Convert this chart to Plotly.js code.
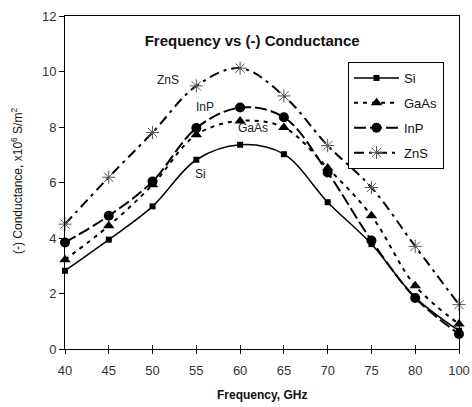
<!DOCTYPE html>
<html>
<head>
<meta charset="utf-8">
<script src="https://cdn.plot.ly/plotly-3.0.1.min.js"></script>
<style>html,body{margin:0;padding:0;background:#fff;}#chart{width:472px;height:407px;}</style>
</head>
<body>
<div id="chart"></div>
<script>
var frequencies = ["40","45","50","55","60","65","70","75","80","100"];
var si   = [2.82, 3.94, 5.14, 6.82, 7.36, 7.02, 5.29, 3.78, 1.86, 0.66];
var gaas = [3.22, 4.44, 5.92, 7.72, 8.22, 7.98, 6.52, 4.80, 2.28, 0.90];
var inp  = [3.84, 4.80, 6.04, 7.96, 8.70, 8.35, 6.36, 3.91, 1.84, 0.54];
var zns  = [4.50, 6.19, 7.80, 9.48, 10.12, 9.12, 7.33, 5.82, 3.70, 1.60];
var yTicks = [0, 2, 4, 6, 8, 10, 12];
var xTitle = "<b>Frequency, GHz</b>";
var yTitle = "(-) Conductance, x10<sup>6</sup> S/m<sup>2</sup>";

var font = "Liberation Sans, Arial, sans-serif";

function tr(name, y, dash, width, symbol, size, mcolor, group) {
  return {
    x: frequencies, y: y, name: name, type: "scatter", mode: "lines+markers",
    line: {color: "#000", width: width, dash: dash, shape: "spline", smoothing: 1},
    marker: {symbol: symbol, size: size, color: mcolor, line: {color: mcolor, width: symbol.indexOf("open") >= 0 ? 1 : 0}},
    cliponaxis: false, legendgroup: group
  };
}

var data = [
  tr("Si", si, "solid", 1.5, "square", 6, "#000", "a"),
  tr("GaAs", gaas, "4px,5px", 2, "triangle-up", 10, "#000", "b"),
  tr("InP", inp, "12px,4px", 2, "circle", 10, "#000", "c"),
  tr("ZnS", zns, "10px,5px,3px,5px", 2, "asterisk-open", 11, "#555", "d")
];

var layout = {
  width: 472, height: 407,
  margin: {l: 65, r: 13, t: 16, b: 58},
  paper_bgcolor: "#fff", plot_bgcolor: "#fff",
  font: {family: font, color: "#222", size: 12},
  showlegend: true,
  title: {text: "<b>Frequency vs (-) Conductance</b>", font: {family: font, size: 15, color: "#111"},
          xref: "paper", x: 0.475, xanchor: "center", yref: "container", y: 1 - 41/407, yanchor: "middle"},
  xaxis: {
    type: "category", range: [0, 9], showgrid: false, zeroline: false, automargin: false,
    showline: true, linecolor: "#000", linewidth: 1, mirror: true,
    ticks: "outside", ticklen: 4, tickcolor: "#000", ticklabelstandoff: 5,
    tickfont: {family: font, size: 13, color: "#333"}
  },
  xaxis2: {
    overlaying: "x", anchor: "y", type: "linear", range: [0, 9],
    tickvals: [0,1,2,3,4,5,6,7,8,9], showticklabels: false,
    ticks: "inside", ticklen: 4, tickcolor: "#000", showgrid: false, zeroline: false, showline: false
  },
  yaxis: {
    range: [0, 12], tickvals: yTicks, showgrid: false, zeroline: false, automargin: false,
    showline: true, linecolor: "#000", linewidth: 1, mirror: true,
    ticks: "outside", ticklen: 5, tickcolor: "#000",
    tickfont: {family: font, size: 13, color: "#333"}
  },
  legend: {
    x: (348 - 65) / 394, y: (349 - 62) / 333, xanchor: "left", yanchor: "top",
    bgcolor: "#fff", bordercolor: "#000", borderwidth: 1,
    font: {family: font, size: 13, color: "#111"},
    tracegroupgap: 5, itemwidth: 45
  },
  annotations: [
    {x: 2.35, y: 9.69, xref: "x", yref: "y", text: "ZnS", showarrow: false, font: {family: font, size: 12, color: "#222"}},
    {x: 3.2, y: 8.72, xref: "x", yref: "y", text: "InP", showarrow: false, font: {family: font, size: 12, color: "#222"}},
    {x: 4.29, y: 7.96, xref: "x", yref: "y", text: "GaAs", showarrow: false, font: {family: font, size: 12, color: "#222"}},
    {x: 3.1, y: 6.3, xref: "x", yref: "y", text: "Si", showarrow: false, font: {family: font, size: 12, color: "#222"}},
    {x: 0.5, y: (349 - 395) / 333, xref: "paper", yref: "paper", xanchor: "center", yanchor: "middle",
     text: xTitle, showarrow: false, font: {family: font, size: 12, color: "#111"}},
    {x: (17 - 65) / 394, y: (349 - 181) / 333, xref: "paper", yref: "paper", xanchor: "center", yanchor: "middle",
     textangle: -90, text: yTitle, showarrow: false, font: {family: font, size: 12, color: "#111"}}
  ]
};

// invisible helper trace so the overlaid axis draws the inner half of the crossing x ticks
data.push({x: [0], y: [0], xaxis: "x2", yaxis: "y", mode: "markers", marker: {opacity: 0}, showlegend: false, hoverinfo: "skip"});

Plotly.newPlot("chart", data, layout, {staticPlot: true});
</script>
</body>
</html>
